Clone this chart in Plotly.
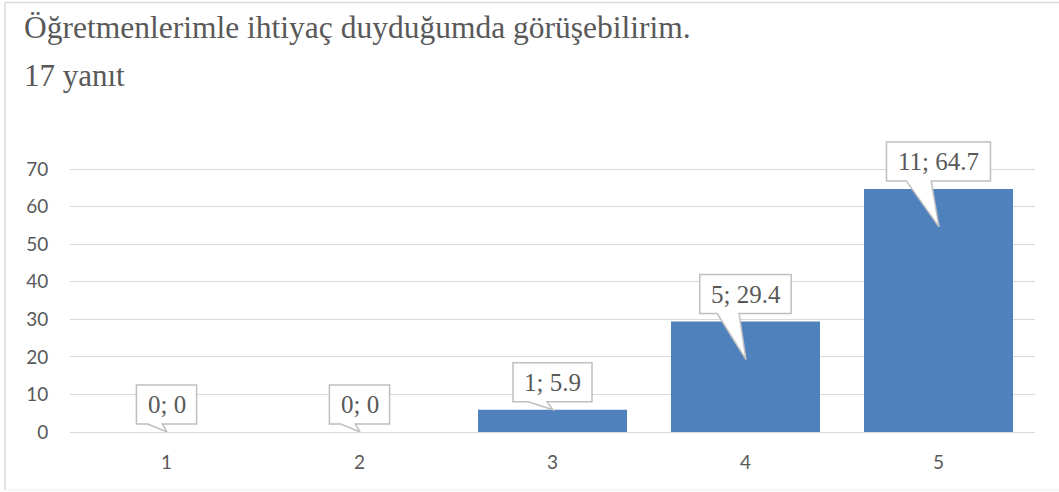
import plotly.graph_objects as go

# ---- data ----
categories = [1, 2, 3, 4, 5]
counts = [0, 0, 1, 5, 11]
percents = [0, 0, 5.9, 29.4, 64.7]
title_text = "Öğretmenlerimle ihtiyaç duyduğumda görüşebilirim."
subtitle_text = "17 yanıt"
y_ticks = [0, 10, 20, 30, 40, 50, 60, 70]

# ---- layout constants ----
W, H = 1059, 492
ML, MR, MT, MB = 70, 24, 120, 60
PW, PH = W - ML - MR, H - MT - MB
PX_PER_UNIT = 263 / 70          # 70 units span 263 px
Y_RANGE_TOP = PH / PX_PER_UNIT  # extra headroom so callouts are not clipped
BAR_COLOR = "#4F81BD"
TEXT_GRAY = "#595959"
GRID = "#D9D9D9"
CALLOUT_LINE = "#BFBFBF"
LABEL_FONT = 25
TITLE_FONT = 31.5


def px_to_paper_x(px):
    return (px - ML) / PW


def px_to_paper_y(py):
    return (H - MB - py) / PH


# Times / Liberation Serif advance widths (em)
CHAR_W = {c: 0.5 for c in "0123456789"}
CHAR_W.update({";": 0.278, " ": 0.25, ".": 0.25})


def text_width(s, size):
    return sum(CHAR_W.get(c, 0.5) for c in s) * size


fig = go.Figure()
fig.add_trace(go.Bar(
    x=categories, y=percents, marker=dict(color=BAR_COLOR, line=dict(width=0)),
    hoverinfo="skip", showlegend=False,
))

shapes = []
annotations = []

# callout labels
for c, n, p in zip(categories, counts, percents):
    label = f"{n}; {p:g}"
    w = text_width(label, LABEL_FONT) + 22
    h = 39
    gap = 8
    bar_px = p * PX_PER_UNIT
    drop = 38 if bar_px > 60 else 0
    yb, yt = gap, gap + h
    bl = -w / 2 + 0.19 * w
    br = -w / 2 + 0.43 * w
    path = (f"M {-w/2:.1f},{yb} L {bl:.1f},{yb} L 0.5,{-drop} L {br:.1f},{yb} "
            f"L {w/2:.1f},{yb} L {w/2:.1f},{yt} L {-w/2:.1f},{yt} Z")
    shapes.append(dict(
        type="path", xref="x", yref="y", xsizemode="pixel", ysizemode="pixel",
        xanchor=c, yanchor=p, path=path, fillcolor="white",
        line=dict(color=CALLOUT_LINE, width=1.5), layer="above",
    ))
    annotations.append(dict(
        x=c, y=p, xref="x", yref="y", text=label, showarrow=False,
        yshift=gap + h / 2, xanchor="center", yanchor="middle",
        font=dict(family="Liberation Serif", size=LABEL_FONT, color=TEXT_GRAY),
    ))

# title texts
annotations.append(dict(
    x=px_to_paper_x(22), y=px_to_paper_y(28), xref="paper", yref="paper",
    text=title_text, showarrow=False, xanchor="left", yanchor="middle",
    font=dict(family="Liberation Serif", size=TITLE_FONT, color=TEXT_GRAY),
))
annotations.append(dict(
    x=px_to_paper_x(22), y=px_to_paper_y(75), xref="paper", yref="paper",
    text=subtitle_text, showarrow=False, xanchor="left", yanchor="middle",
    font=dict(family="Liberation Serif", size=31, color=TEXT_GRAY),
))

# outer border (top, left, bottom)
border = dict(color="#D9D9D9", width=1.5)
shapes.append(dict(type="line", xref="paper", yref="paper",
                   x0=px_to_paper_x(5), x1=px_to_paper_x(W + 5),
                   y0=px_to_paper_y(2.5), y1=px_to_paper_y(2.5), line=border, layer="below"))
shapes.append(dict(type="line", xref="paper", yref="paper",
                   x0=px_to_paper_x(5), x1=px_to_paper_x(5),
                   y0=px_to_paper_y(2.5), y1=px_to_paper_y(490), line=border, layer="below"))
shapes.append(dict(type="line", xref="paper", yref="paper",
                   x0=px_to_paper_x(5), x1=px_to_paper_x(W + 5),
                   y0=px_to_paper_y(490), y1=px_to_paper_y(490),
                   line=dict(color="#EEEEEE", width=1), layer="below"))

fig.update_layout(
    width=W, height=H,
    margin=dict(l=ML, r=MR, t=MT, b=MB, pad=0),
    paper_bgcolor="white", plot_bgcolor="white",
    bargap=0.228, hovermode=False,
    shapes=shapes, annotations=annotations,
    xaxis=dict(
        range=[0.5, 5.5], tickvals=categories, ticktext=[str(c) for c in categories],
        showgrid=False, zeroline=False, showline=False,
        ticks="outside", ticklen=13, tickcolor="rgba(0,0,0,0)",
        tickfont=dict(family="Lato", size=19, color=TEXT_GRAY),
    ),
    yaxis=dict(
        range=[0, Y_RANGE_TOP], tickvals=y_ticks, showgrid=True, gridcolor=GRID, gridwidth=1,
        zeroline=True, zerolinecolor=GRID, zerolinewidth=1, showline=False,
        ticks="outside", ticklen=17, tickcolor="rgba(0,0,0,0)",
        tickfont=dict(family="Lato", size=19, color=TEXT_GRAY),
    ),
)

fig.write_html("out.html", config={"displayModeBar": False},
               post_script="document.body.style.margin='0';")
